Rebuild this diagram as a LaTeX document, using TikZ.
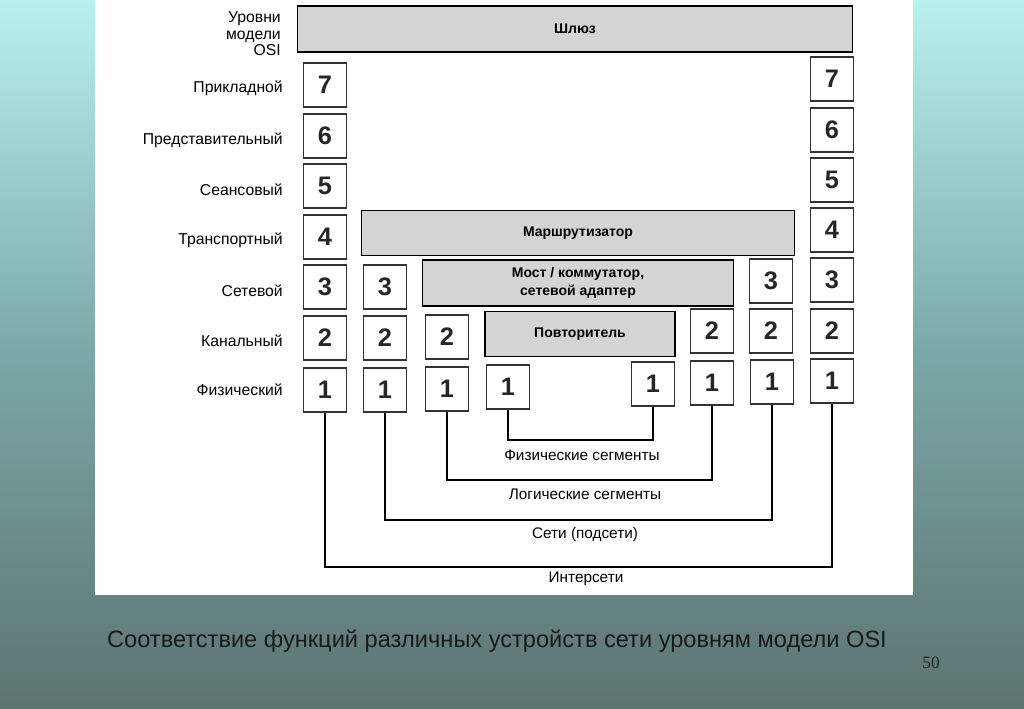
\documentclass[tikz,border=0pt]{standalone}
\usepackage{fontspec}
\setmainfont{Liberation Sans}
\newfontfamily\pagenumfont{Liberation Serif}
\definecolor{bgtop}{RGB}{185,240,240}
\definecolor{bgmid}{RGB}{122,168,166}
\definecolor{bgbot}{RGB}{92,116,113}
\definecolor{barfill}{RGB}{212,212,212}
\begin{document}
\begin{tikzpicture}[x=0.75pt,y=-0.75pt,
  numbox/.style={draw=black!80,line width=0.9pt,fill=white,minimum width=32.25pt,minimum height=33pt,inner sep=0pt,font=\bfseries\fontsize{19}{19}\selectfont,text=black!85},
  devbar/.style={draw=black,line width=1.1pt,fill=barfill,inner sep=0pt,align=center,font=\bfseries\fontsize{10.5}{13}\selectfont},
  lvl/.style={anchor=east,inner sep=0pt,font=\fontsize{11.8}{12.5}\selectfont},
  seglabel/.style={inner sep=0pt,font=\fontsize{11.5}{13}\selectfont},
  link/.style={draw=black,line width=0.9pt}]
\useasboundingbox (0,0) rectangle (1024,709);
\shade[top color=bgtop,bottom color=bgbot,middle color=bgmid] (0,0) rectangle (1024,709);
\fill[white] (95,0) rectangle (913,595);

% level labels
\node[lvl,align=right] (title) at (281,34) {Уровни\\модели\\OSI};
\node[lvl] (l7) at (283,88) {Прикладной};
\node[lvl] (l6) at (283,140) {Представительный};
\node[lvl] (l5) at (283,190) {Сеансовый};
\node[lvl] (l4) at (283,240) {Транспортный};
\node[lvl] (l3) at (283,291) {Сетевой};
\node[lvl] (l2) at (283,341) {Канальный};
\node[lvl] (l1) at (283,390) {Физический};

% device bars
\node[devbar,minimum width=416.25pt,minimum height=34.5pt] (gw) at (575,29) {Шлюз};
\node[devbar,minimum width=324.75pt,minimum height=34pt] (router) at (578,233) {Маршрутизатор};
\node[devbar,minimum width=233.25pt,minimum height=34.5pt] (bridge) at (578,283) {Мост / коммутатор,\\сетевой адаптер};
\node[devbar,minimum width=142.5pt,minimum height=33.75pt] (rep) at (580,334) {Повторитель};

% left full stack
\foreach \n/\y in {7/85,6/136,5/186,4/237,3/287,2/338,1/390}
  \node[numbox] (a\n) at (325,\y) {\n};
% right full stack
\foreach \n/\y in {7/79,6/130,5/180,4/230,3/280,2/331,1/381}
  \node[numbox] (h\n) at (832,\y) {\n};

% router stacks
\node[numbox] (b3) at (385,287) {3};
\node[numbox] (b2) at (385,338) {2};
\node[numbox] (b1) at (385,390) {1};
\node[numbox] (g3) at (771,281) {3};
\node[numbox] (g2) at (771,331) {2};
\node[numbox] (g1) at (772,382) {1};
% bridge stacks
\node[numbox] (c2) at (447,337) {2};
\node[numbox] (c1) at (447,389) {1};
\node[numbox] (f2) at (712,331) {2};
\node[numbox] (f1) at (712,383) {1};
% repeater stacks
\node[numbox] (d1) at (508,387) {1};
\node[numbox] (e1) at (653,384) {1};

% brackets
\coordinate (yphys) at (0,440);
\coordinate (ylog) at (0,480);
\coordinate (ynet) at (0,520);
\coordinate (yint) at (0,567);
\draw[link] (d1.south) -- (d1.south |- yphys) -| (e1.south);
\draw[link] (c1.south) -- (c1.south |- ylog) -| (f1.south);
\draw[link] (b1.south) -- (b1.south |- ynet) -| (g1.south);
\draw[link] (a1.south) -- (a1.south |- yint) -| (h1.south);

\node[seglabel] (sphys) at (582,455) {Физические сегменты};
\node[seglabel] (slog) at (585,494) {Логические сегменты};
\node[seglabel] (snet) at (585,535) {Сети (подсети)};
\node[seglabel] (sint) at (586,579) {Интерсети};

% caption
\node[inner sep=0pt,font=\fontsize{17.7}{21}\selectfont,text=black!90] (cap) at (497,641) {Соответствие функций различных устройств сети уровням модели OSI};
\node[inner sep=0pt,font=\pagenumfont\fontsize{13}{15}\selectfont,text=black!85] (pnum) at (931,663) {50};
\end{tikzpicture}
\end{document}
